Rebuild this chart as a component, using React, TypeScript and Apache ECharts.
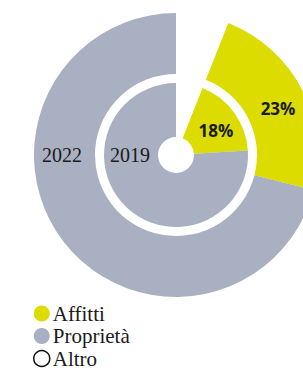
import React, { useEffect, useRef } from "react";
import * as echarts from "echarts";

const categories = ["Altro", "Affitti", "Proprietà"];
const values2019 = [6, 18, 76];
const values2022 = [6, 23, 71];
const yearLabels = ["2019", "2022"];
const legendOrder = ["Affitti", "Proprietà", "Altro"];

const COLORS: Record<string, string> = {
  Altro: "#ffffff",
  Affitti: "#dcdc00",
  Proprietà: "#a9b0c1",
};

const CX = 176;
const CY = 155;

function buildData(values: number[]) {
  return categories.map((name, i) => ({
    name,
    value: values[i],
    itemStyle: { color: COLORS[name] },
    label: { show: name === "Affitti" },
  }));
}

export default function App() {
  const ref = useRef<HTMLDivElement>(null);
  useEffect(() => {
    if (!ref.current) return;
    const chart = echarts.init(ref.current, null, { renderer: "svg" });
    const pctLabel = {
      position: "inside",
      formatter: "{c}%",
      fontFamily: "Open Sans",
      fontWeight: "bold",
      fontSize: 17,
      color: "#1a1a1a",
    };
    chart.setOption({
      animation: false,
      backgroundColor: "#ffffff",
      legend: {
        orient: "vertical",
        left: 33,
        top: 303,
        height: 90,
        padding: 0,
        itemWidth: 16,
        itemHeight: 16,
        itemGap: 1.5,
        icon: "circle",
        selectedMode: false,
        textStyle: {
          fontFamily: "Liberation Serif",
          fontSize: 21,
          lineHeight: 18,
          color: "#1a1a1a",
          padding: [0, 0, 0, -2],
        },
        data: legendOrder.map((name) =>
          name === "Altro"
            ? {
                name,
                itemStyle: { color: "#ffffff", borderColor: "#111111", borderWidth: 1.5 },
              }
            : { name, itemStyle: { color: COLORS[name] } }
        ),
      },
      series: [
        {
          name: yearLabels[0],
          type: "pie",
          center: [CX, CY],
          radius: [18, 72],
          startAngle: 90,
          clockwise: true,
          silent: true,
          label: { ...pctLabel, offset: [1, 4] },
          labelLine: { show: false },
          data: buildData(values2019),
        },
        {
          name: yearLabels[1],
          type: "pie",
          center: [CX, CY],
          radius: [81, 142],
          startAngle: 90,
          clockwise: true,
          silent: true,
          label: { ...pctLabel, offset: [0, 5] },
          labelLine: { show: false },
          data: buildData(values2022),
        },
      ],
      graphic: [
        {
          type: "text",
          z: 100,
          x: 130,
          y: CY,
          style: {
            text: yearLabels[0],
            fontFamily: "Liberation Serif",
            fontSize: 20,
            fill: "#1a1a1a",
            align: "center",
            verticalAlign: "middle",
          },
        },
        {
          type: "text",
          z: 100,
          x: 62,
          y: CY,
          style: {
            text: yearLabels[1],
            fontFamily: "Liberation Serif",
            fontSize: 20,
            fill: "#1a1a1a",
            align: "center",
            verticalAlign: "middle",
          },
        },
      ],
    });
    return () => chart.dispose();
  }, []);
  return (
    <div
      ref={ref}
      style={{ position: "fixed", left: 0, top: 0, width: 303, height: 370 }}
    />
  );
}
